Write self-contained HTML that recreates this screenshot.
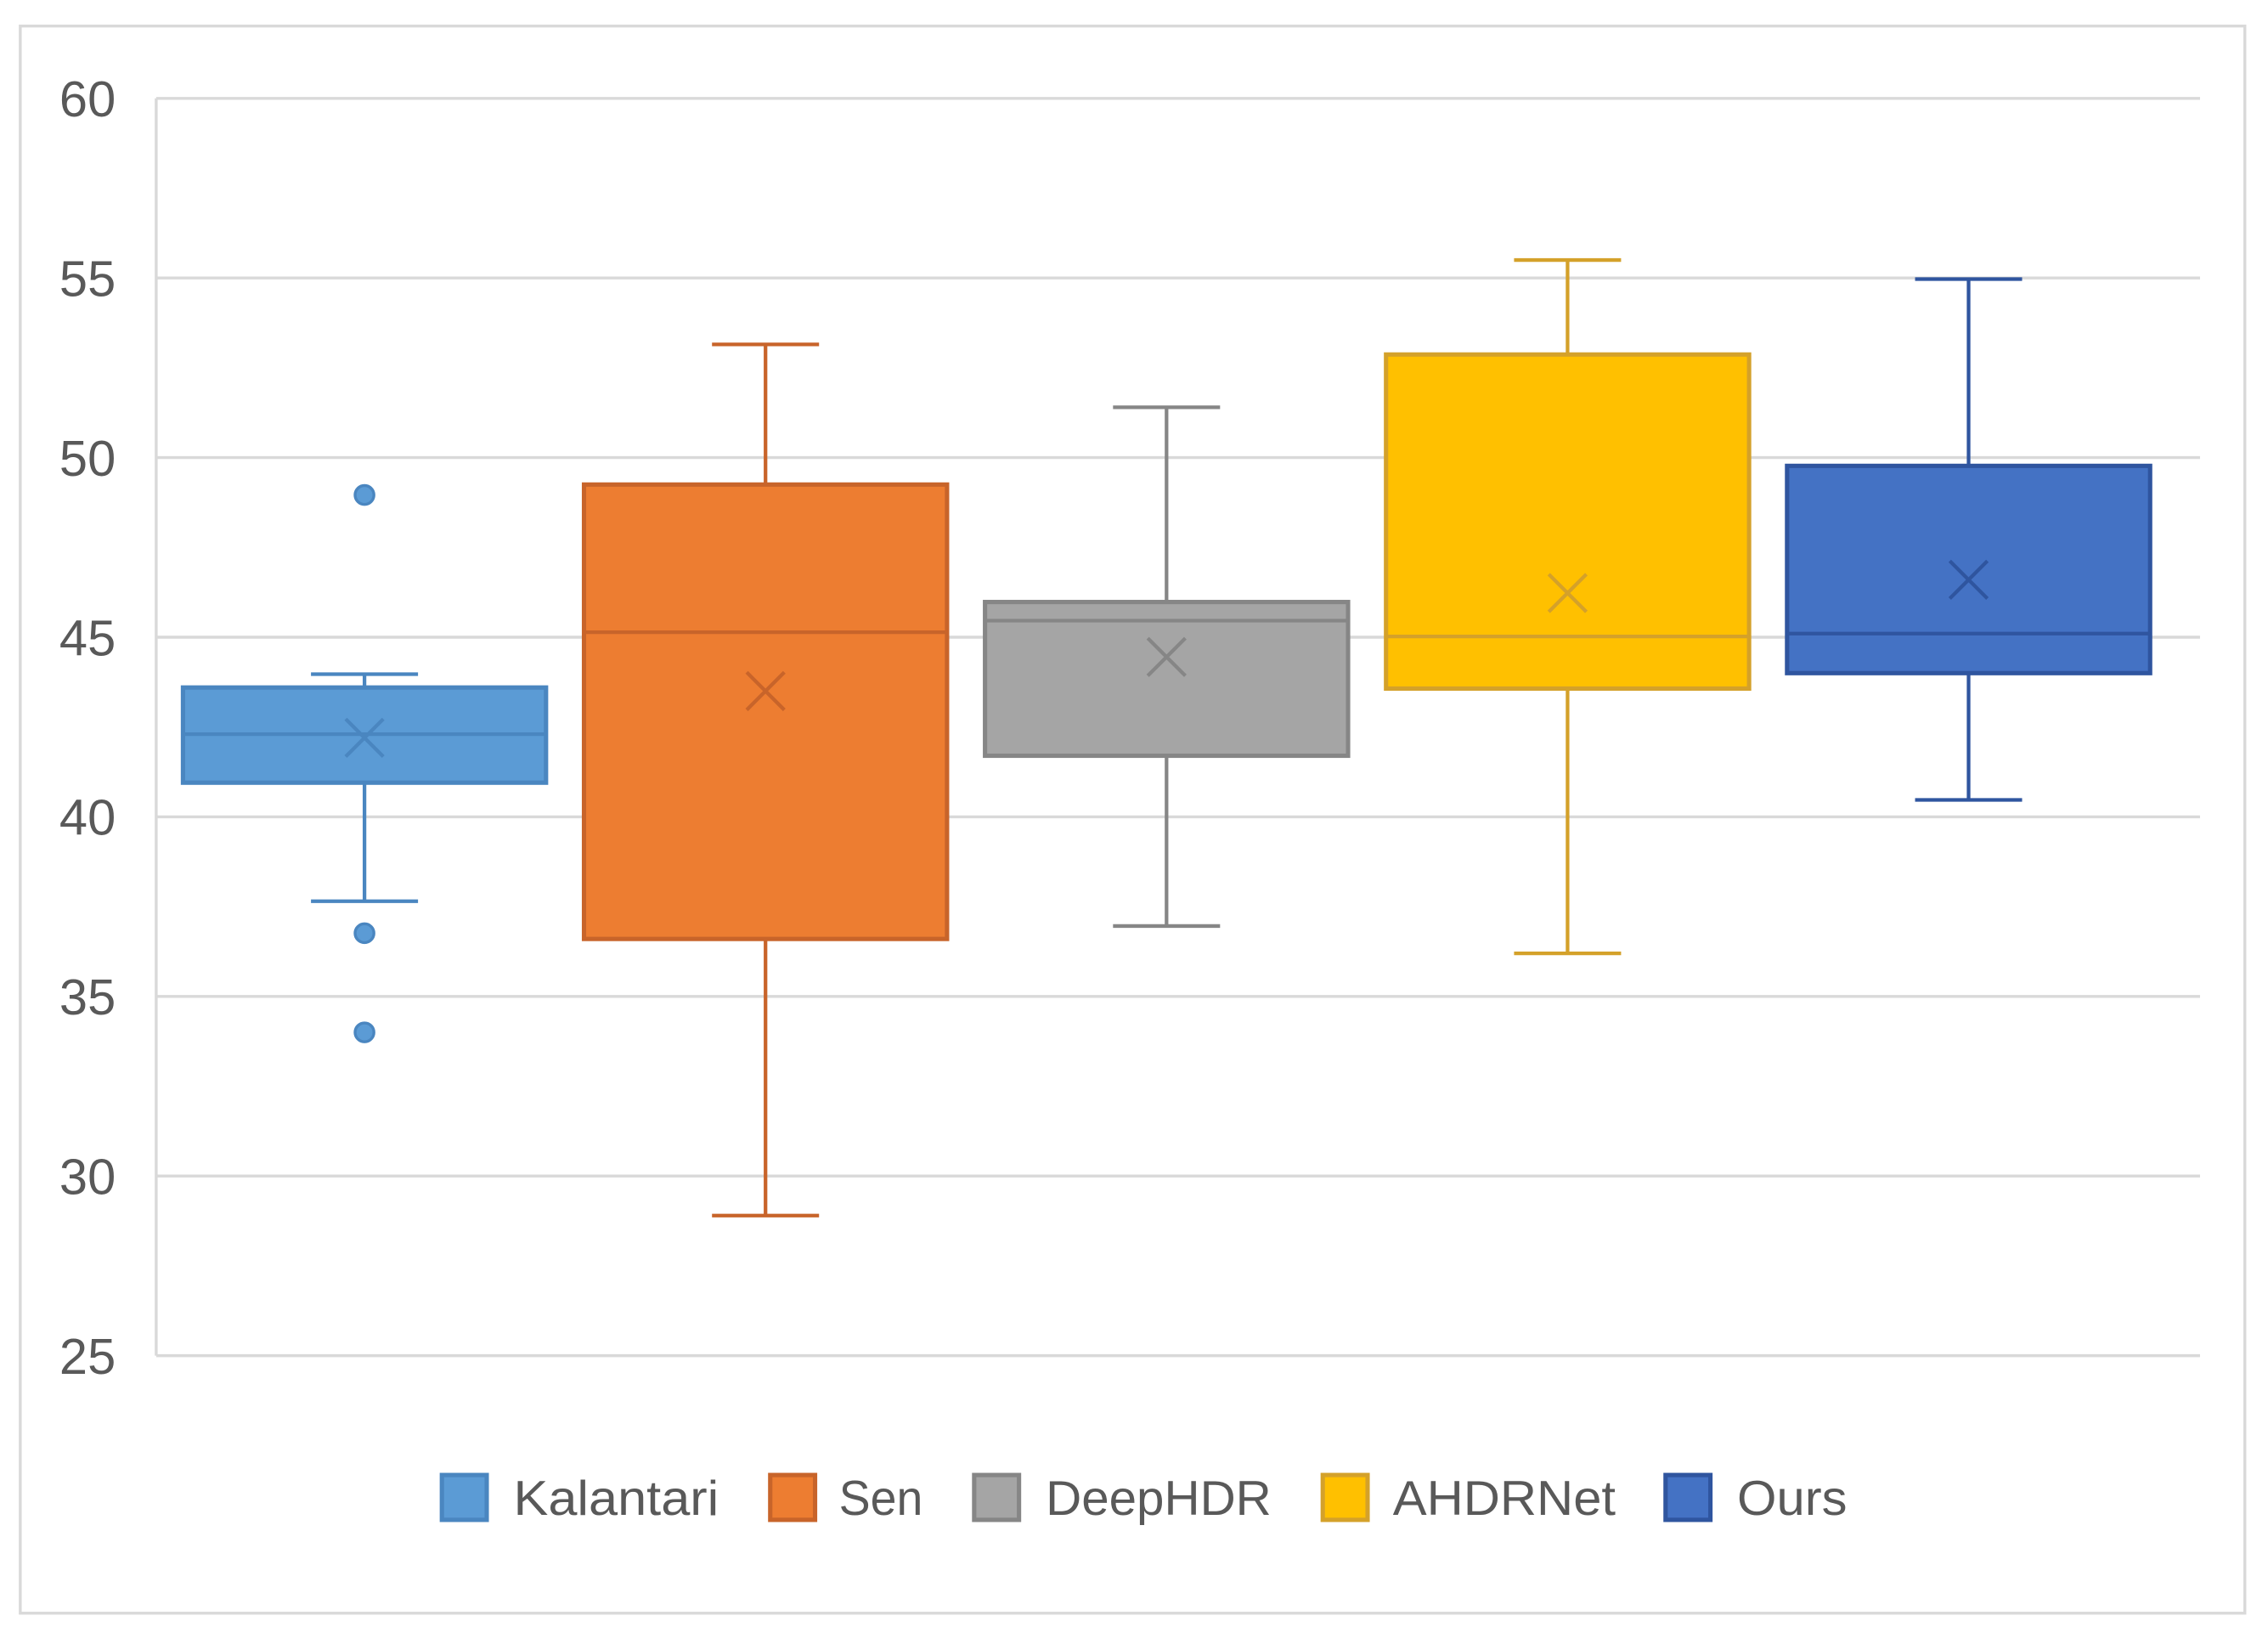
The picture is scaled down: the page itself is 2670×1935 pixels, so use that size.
<!DOCTYPE html>
<html><head><meta charset="utf-8"><style>
html,body{margin:0;padding:0;background:#fff;}
svg{display:block;font-family:"Liberation Sans",sans-serif;}
</style></head><body>
<svg id="chart" width="2670" height="1935" viewBox="0 0 1568 1136.3" preserveAspectRatio="none" xmlns="http://www.w3.org/2000/svg">
<rect x="14" y="18" width="1538" height="1097" fill="#fff" stroke="#d9d9d9" stroke-width="2"/>
<g id="grid"></g>
<g id="yticks"></g>
<g id="marks"></g>
<g id="legend"></g>
</svg>
<script>
const categories = ["Kalantari","Sen","DeepHDR","AHDRNet","Ours"];
const whiskerMax = [43.97, 53.15, 51.4, 55.5, 54.97];
const q3Values = [43.6, 49.25, 45.98, 52.87, 49.77];
const medianValues = [42.3, 45.14, 45.46, 45.02, 45.1];
const q1Values = [40.95, 36.6, 41.7, 43.57, 44.0];
const whiskerMin = [37.65, 28.9, 36.96, 36.2, 40.47];
const meanValues = [42.2, 43.5, 44.45, 46.23, 46.6];
const outlierValues = [[48.96, 36.76, 34.0], [], [], [], []];
const yTicks = [25, 30, 35, 40, 45, 50, 55, 60];
const fills = ["#5B9BD5","#ED7D31","#A5A5A5","#FFC000","#4472C4"];
const strokes = ["#4A86C0","#C8642A","#868686","#D4A12A","#2F559F"];
const NS = "http://www.w3.org/2000/svg";
const yMin = 25, yMax = 60, yTop = 68, yBot = 937;
function y(v){ return yBot - (v - yMin) * (yBot - yTop) / (yMax - yMin); }
function cx(i){ return 252 + i * 277.25; }
const boxW = 251, capW = 74;
function mk(tag, attrs, parent){ const e = document.createElementNS(NS, tag); for (const k in attrs) e.setAttribute(k, attrs[k]); parent.appendChild(e); return e; }
const grid = document.getElementById('grid'), yt = document.getElementById('yticks'), marks = document.getElementById('marks'), legend = document.getElementById('legend');
yTicks.forEach(t => {
  const l = mk('line', {x1:108, x2:1521, y1:y(t), y2:y(t), stroke:'#d9d9d9', 'stroke-width':2}, grid);
  
  
  const tx = mk('text', {x:80, y:y(t) + 12.5, 'text-anchor':'end', 'font-size':35, fill:'#595959'}, yt);
  tx.textContent = t;
  
  
});
mk('line', {x1:108, x2:108, y1:68, y2:937, stroke:'#d9d9d9', 'stroke-width':2}, grid);
categories.forEach((c, i) => {
  const g = mk('g', {}, marks);
  
  
  const x = cx(i), s = strokes[i];
  mk('line', {x1:x, x2:x, y1:y(whiskerMax[i]), y2:y(q3Values[i]), stroke:s, 'stroke-width':2.5}, g);
  mk('line', {x1:x, x2:x, y1:y(q1Values[i]), y2:y(whiskerMin[i]), stroke:s, 'stroke-width':2.5}, g);
  mk('line', {x1:x-capW/2, x2:x+capW/2, y1:y(whiskerMax[i]), y2:y(whiskerMax[i]), stroke:s, 'stroke-width':2.5}, g);
  mk('line', {x1:x-capW/2, x2:x+capW/2, y1:y(whiskerMin[i]), y2:y(whiskerMin[i]), stroke:s, 'stroke-width':2.5}, g);
  mk('rect', {x:x-boxW/2, y:y(q3Values[i]), width:boxW, height:y(q1Values[i]) - y(q3Values[i]), fill:fills[i], stroke:s, 'stroke-width':3}, g);
  mk('line', {x1:x-boxW/2, x2:x+boxW/2, y1:y(medianValues[i]), y2:y(medianValues[i]), stroke:s, 'stroke-width':2.5}, g);
  const my = y(meanValues[i]), d = 13;
  mk('path', {d:`M${x-d},${my-d}L${x+d},${my+d}M${x-d},${my+d}L${x+d},${my-d}`, stroke:s, 'stroke-width':2.5, fill:'none'}, g);
  outlierValues[i].forEach(v => {
    const o = mk('circle', {cx:x, cy:y(v), r:6.5, fill:fills[i], stroke:s, 'stroke-width':2}, g);
    
    
  });
});
const legSq = [304, 531, 672, 913, 1150];
const legTx = [355, 580, 723, 963, 1201];
const legW = [142, 58, 156, 154, 76];
categories.forEach((c, i) => {
  const g = mk('g', {}, legend);
  
  
  mk('rect', {x:legSq[i]+1.5, y:1019.5, width:31, height:31, fill:fills[i], stroke:strokes[i], 'stroke-width':3}, g);
  const t = mk('text', {x:legTx[i], y:1047, 'font-size':34, fill:'#595959', textLength:legW[i], lengthAdjust:'spacingAndGlyphs'}, g);
  t.textContent = c;
});
</script>
</body></html>
